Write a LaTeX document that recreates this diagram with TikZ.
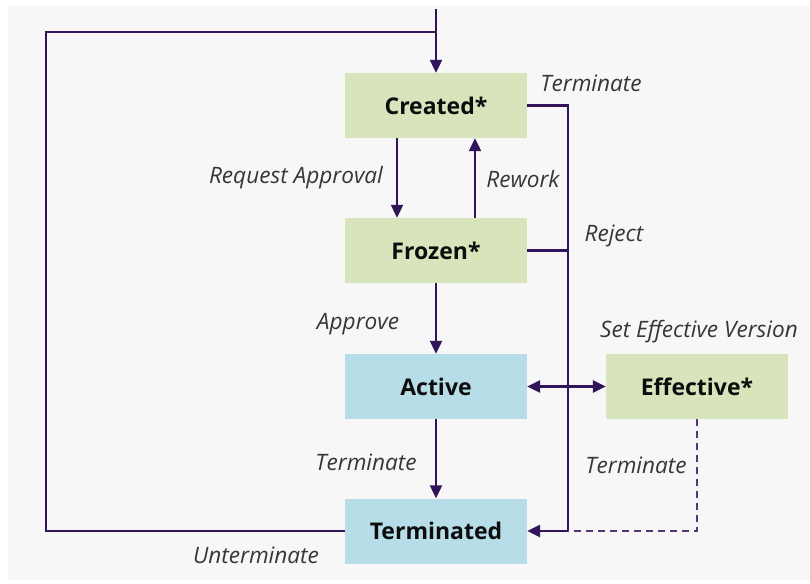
\documentclass[tikz,border=0pt]{standalone}
\usepackage{fontspec}
\setmainfont{Open Sans}
\usetikzlibrary{arrows.meta}
\definecolor{bgpanel}{RGB}{247,247,247}
\definecolor{stategreen}{RGB}{216,228,188}
\definecolor{stateblue}{RGB}{183,222,232}
\definecolor{flowline}{RGB}{50,20,90}
\definecolor{dashline}{RGB}{85,55,120}
\definecolor{labeltext}{RGB}{55,55,55}

\begin{document}
\begin{tikzpicture}[x=1pt,y=-1pt,
  state/.style={minimum width=182pt, minimum height=65pt, inner sep=0pt,
    font=\fontsize{23}{26}\selectfont\bfseries, text=black!95},
  greenstate/.style={state, fill=stategreen},
  bluestate/.style={state, fill=stateblue},
  line/.style={draw=flowline, line width=2.2pt},
  tip/.tip={Triangle[length=13pt,width=12pt]},
  flow/.style={line, -tip},
  lbl/.style={font=\fontsize{22.6}{26}\selectfont\itshape, text=labeltext,
    inner sep=0pt, anchor=base}
]
% canvas
\useasboundingbox (0,0) rectangle (810,583);
\fill[white] (0,0) rectangle (810,583);
\fill[bgpanel] (8,6) rectangle (810,580);

% states
\node[greenstate] (created)    at (436,105.5) {Created*};
\node[greenstate] (frozen)     at (436,250.5) {Frozen*};
\node[bluestate]  (active)     at (436,386.5) {Active};
\node[greenstate] (effective)  at (697,386.5) {Effective*};
\node[bluestate]  (terminated) at (436,531)   {Terminated};

% routing points
\coordinate (entry)  at (436,9);
\coordinate (loopTL) at (46,32);
\coordinate (loopJ)  at (436,32);
\coordinate (busBot) at (568,531);

% transitions
\draw[flow] (entry) -- (created.north);
\draw[line] (terminated.west) -| (loopTL) -- (loopJ);
\draw[flow] ([xshift=-39pt]created.south) -- ([xshift=-39pt]frozen.north);
\draw[flow] ([xshift=39pt]frozen.north) -- ([xshift=39pt]created.south);
\draw[line] (created.east) -| (busBot);
\draw[line] (frozen.east) -- (frozen.east -| busBot);
\draw[flow, line width=2.8pt] (busBot) -- (terminated.east);
\draw[flow] (frozen) -- (active);
\draw[flow] (active) -- (terminated);
\draw[line, line width=3pt, tip-tip] (active) -- (effective);
\draw[draw=dashline, line width=2.2pt, dash pattern=on 7pt off 5pt]
  (effective.south) |- (busBot);

% transition labels
\node[lbl] (tTop)   at (591,92)  {Terminate};
\node[lbl] (tReq)   at (296,183) {Request Approval};
\node[lbl] (tRew)   at (523,187) {Rework};
\node[lbl] (tRej)   at (614,241) {Reject};
\node[lbl] (tApp)   at (358,329) {Approve};
\node[lbl] (tSet)   at (699,337) {Set Effective Version};
\node[lbl] (tTrmA)  at (366,470) {Terminate};
\node[lbl] (tTrmB)  at (636,473) {Terminate};
\node[lbl] (tUnt)   at (256,563) {Unterminate};
\end{tikzpicture}
\end{document}
